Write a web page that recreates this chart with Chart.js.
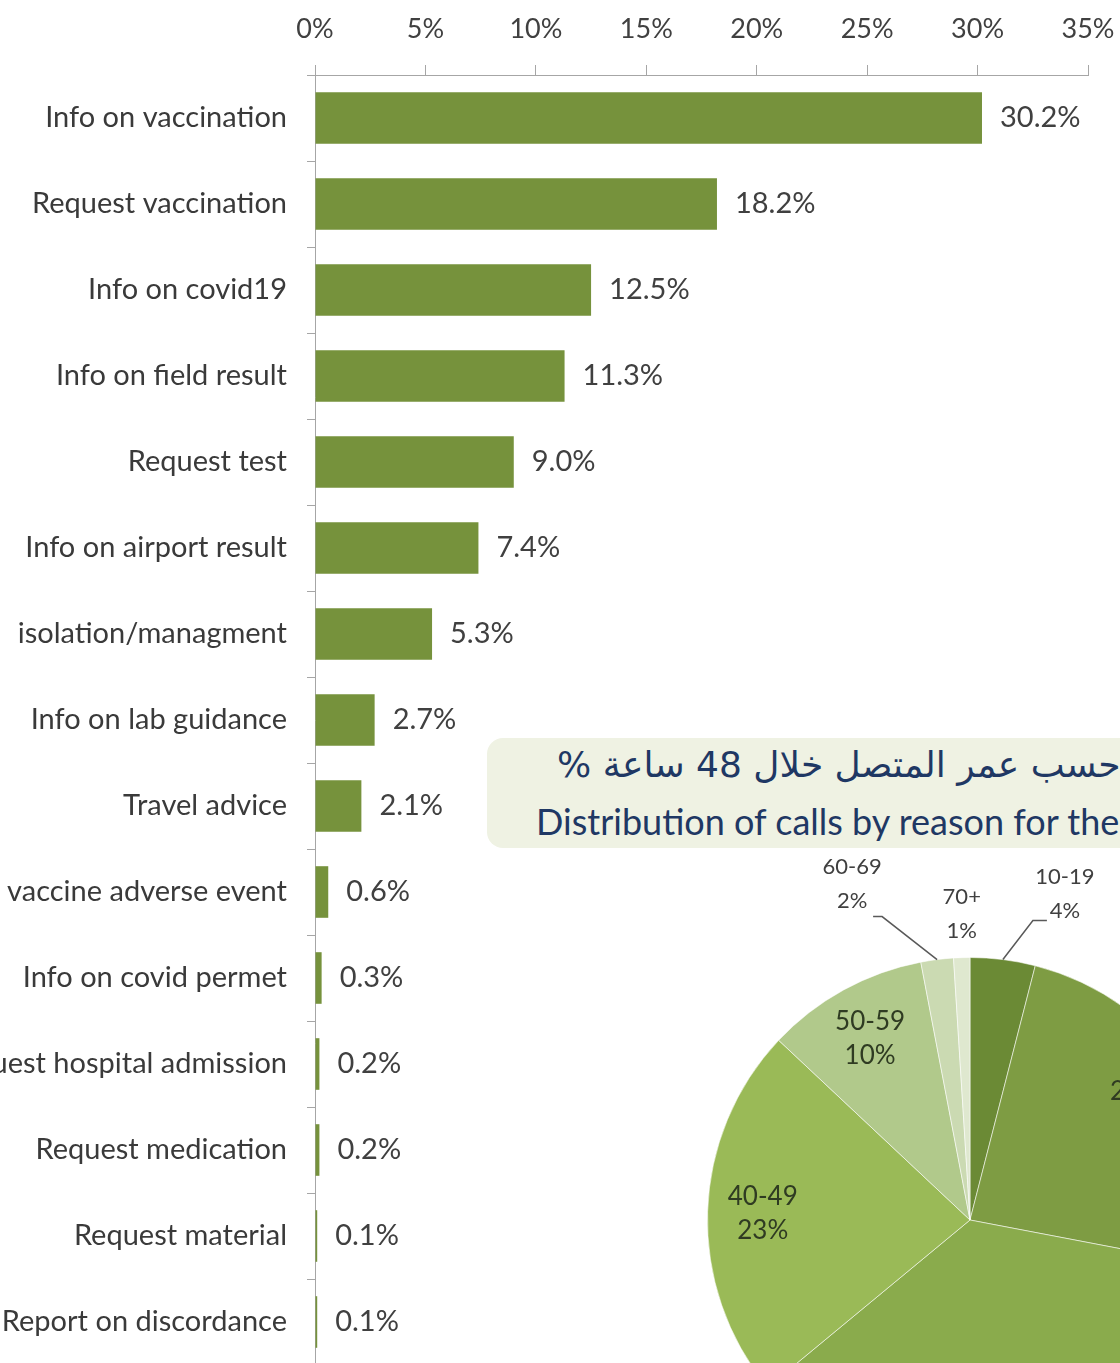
<!DOCTYPE html>
<html>
<head>
<meta charset="utf-8">
<script src="https://cdn.jsdelivr.net/npm/chart.js@4.4.1/dist/chart.umd.min.js"></script>
<style>
html, body { margin: 0; padding: 0; background: #fff; overflow: hidden; }
#page { position: relative; width: 1120px; height: 1363px; overflow: hidden; }
#barCanvas { position: absolute; left: 0; top: 0; }
#pieCanvas { position: absolute; left: 570px; top: 820px; }
#titleBox { position: absolute; left: 487px; top: 738px; width: 760px; height: 110px; background: #eff2e3; border-radius: 16px; }
.ar { position: absolute; left: 557px; top: 744px; font-family: "DejaVu Sans"; font-size: 36px; color: #1f3864; white-space: nowrap; }
.en { position: absolute; left: 536px; top: 799px; font-family: Lato; font-size: 36px; color: #1f3864; white-space: nowrap; }
</style>
</head>
<body>
<div id="page">
    <canvas id="barCanvas" width="1120" height="1365"></canvas>
    <div id="titleBox"></div>
    <span class="ar" dir="rtl">حسب عمر المتصل خلال 48 ساعة %</span>
    <span class="en">Distribution of calls by reason for the</span>
    <canvas id="pieCanvas" width="800" height="800"></canvas>
</div>
<script>
// reasons for calls (bar chart)
const categories = [
    "Info on vaccination", "Request vaccination", "Info on covid19", "Info on field result",
    "Request test", "Info on airport result", "isolation/managment", "Info on lab guidance",
    "Travel advice", "vaccine adverse event", "Info on covid permet", "Request hospital admission",
    "Request medication", "Request material", "Report on discordance"
];
const shares = [30.2, 18.2, 12.5, 11.3, 9.0, 7.4, 5.3, 2.7, 2.1, 0.6, 0.3, 0.2, 0.2, 0.1, 0.1];
const axisTicks = [0, 5, 10, 15, 20, 25, 30, 35];

// caller age (pie chart, partly visible)
const ageGroups = ["10-19", "20-29", "30-39", "40-49", "50-59", "60-69", "70+"];
const ageShares = [4, 24, 36, 23, 10, 2, 1];

const ageColors = ["#6b8a35", "#7e9c43", "#8aab4c", "#9aba57", "#b1c98b", "#cbdab2", "#dfe8cf"];

// where the small slices put their labels (relative to the slice's outer edge)
const pieOutside = {
    "10-19": { dx: 62, dy: -66, leader: [[-32, 27], [-18, 27]] },
    "60-69": { dx: -85, dy: -76, leader: [[30, 33], [21, 33]] },
    "70+": { dx: 0, dy: -44 }
};

const barValueLabels = {
    id: "barValueLabels",
    afterDatasetsDraw(chart) {
        const ctx = chart.ctx;
        ctx.save();
        ctx.font = "29px Lato";
        ctx.fillStyle = "#404040";
        ctx.textAlign = "left";
        ctx.textBaseline = "middle";
        chart.getDatasetMeta(0).data.forEach((bar, i) => {
            ctx.fillText(shares[i].toFixed(1) + "%", bar.x + 18, bar.y);
        });
        ctx.restore();
    }
};

const pieLabels = {
    id: "pieLabels",
    afterDatasetsDraw(chart) {
        const ctx = chart.ctx;
        ctx.save();
        ctx.textAlign = "center";
        ctx.textBaseline = "middle";
        chart.getDatasetMeta(0).data.forEach((arc, i) => {
            const mid = (arc.startAngle + arc.endAngle) / 2;
            const name = ageGroups[i];
            const text = ageShares[i] + "%";
            const out = pieOutside[name];
            let lx, ly;
            if (out) {
                const ox = arc.x + Math.cos(mid) * arc.outerRadius;
                const oy = arc.y + Math.sin(mid) * arc.outerRadius;
                lx = ox + out.dx;
                ly = oy + out.dy;
                if (out.leader) {
                    ctx.strokeStyle = "#595959";
                    ctx.lineWidth = 1.5;
                    ctx.beginPath();
                    ctx.moveTo(ox, oy);
                    out.leader.forEach(p => ctx.lineTo(lx + p[0], ly + p[1]));
                    ctx.stroke();
                }
                ctx.font = "22px Lato";
                ctx.fillStyle = "#404040";
            } else {
                lx = arc.x + Math.cos(mid) * arc.outerRadius * 0.79;
                ly = arc.y + Math.sin(mid) * arc.outerRadius * 0.79;
                ctx.font = "26px Lato";
                ctx.fillStyle = "#2f3b22";
            }
            ctx.fillText(name, lx, ly - 17);
            ctx.fillText(text, lx, ly + 17);
        });
        ctx.restore();
    }
};

new Chart(document.getElementById("barCanvas"), {
    type: "bar",
    data: {
        labels: categories,
        datasets: [{
            data: shares,
            backgroundColor: "#76923c",
            barPercentage: 0.6,
            categoryPercentage: 1.0
        }]
    },
    options: {
        indexAxis: "y",
        responsive: false,
        animation: false,
        layout: { padding: { left: 0, right: 32, top: 0, bottom: 0 } },
        plugins: { legend: { display: false }, tooltip: { enabled: false } },
        scales: {
            x: {
                position: "top",
                min: 0,
                max: 35,
                afterBuildTicks: s => { s.ticks = axisTicks.map(v => ({ value: v })); },
                afterFit: s => { s.height = 75; s.paddingLeft = 0; s.paddingRight = 0; },
                ticks: {
                    callback: v => v + "%",
                    font: { family: "Lato", size: 27 },
                    color: "#404040",
                    padding: 20,
                    maxRotation: 0
                },
                grid: { drawOnChartArea: false, tickLength: 10, color: "#a6a6a6" },
                border: { color: "#a6a6a6" }
            },
            y: {
                afterFit: s => { s.width = 315; s.paddingTop = 0; s.paddingBottom = 0; },
                ticks: {
                    font: { family: "Lato", size: 29 },
                    color: "#3a3a3a",
                    padding: 20,
                    autoSkip: false
                },
                grid: { drawOnChartArea: false, tickLength: 8, offset: true, color: "#a6a6a6" },
                border: { color: "#a6a6a6" }
            }
        }
    },
    plugins: [barValueLabels]
});

new Chart(document.getElementById("pieCanvas"), {
    type: "pie",
    data: {
        labels: ageGroups,
        datasets: [{
            data: ageShares,
            backgroundColor: ageColors,
            borderColor: "rgba(255,255,255,0.55)",
            borderWidth: 1
        }]
    },
    options: {
        responsive: false,
        animation: false,
        layout: { padding: 137 },
        plugins: { legend: { display: false }, tooltip: { enabled: false } }
    },
    plugins: [pieLabels]
});
</script>
</body>
</html>
